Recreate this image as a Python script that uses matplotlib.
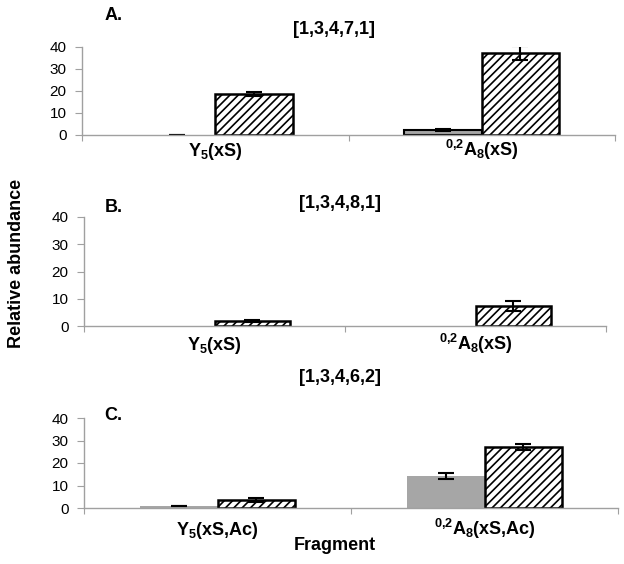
import numpy as np
import matplotlib
matplotlib.use("Agg")
import matplotlib.pyplot as plt
import matplotlib.transforms as mtransforms

plt.rcParams['font.family'] = ['Liberation Sans', 'DejaVu Sans']
plt.rcParams['mathtext.fontset'] = 'custom'
plt.rcParams['mathtext.rm'] = 'Liberation Sans'
plt.rcParams['mathtext.bf'] = 'Liberation Sans:bold'
plt.rcParams['hatch.linewidth'] = 1.2

# data
panels = ['A.', 'B.', 'C.']
titles = ['[1,3,4,7,1]', '[1,3,4,8,1]', '[1,3,4,6,2]']
labels_A = [r'Y$_\mathbf{5}$(xS)', r'$^\mathbf{0{,}2}$A$_\mathbf{8}$(xS)']
labels_B = [r'Y$_\mathbf{5}$(xS)', r'$^\mathbf{0{,}2}$A$_\mathbf{8}$(xS)']
labels_C = [r'Y$_\mathbf{5}$(xS,Ac)', r'$^\mathbf{0{,}2}$A$_\mathbf{8}$(xS,Ac)']

gray_A = [0.0, 2.3]
gray_A_err = [0.05, 0.6]
hatch_A = [18.7, 37.3]
hatch_A_err = [0.8, 3.2]

gray_B = [0.0, 0.0]
gray_B_err = [0.0, 0.0]
hatch_B = [1.8, 7.3]
hatch_B_err = [0.3, 1.8]

gray_C = [0.8, 14.2]
gray_C_err = [0.1, 1.4]
hatch_C = [3.6, 27.1]
hatch_C_err = [0.8, 1.3]

W, H = 624, 564
fig = plt.figure(figsize=(W / 100, H / 100), dpi=100)

def px_axes(x0, x1, y0, y1):
    # axes from pixel box (top-left origin)
    return fig.add_axes([x0 / W, 1 - y1 / H, (x1 - x0) / W, (y1 - y0) / H])

axes = [px_axes(82, 615, 47, 135), px_axes(84, 606, 217, 326), px_axes(84, 618, 418, 508)]
data = [(labels_A, gray_A, gray_A_err, hatch_A, hatch_A_err, True, 21),
        (labels_B, gray_B, gray_B_err, hatch_B, hatch_B_err, False, 24),
        (labels_C, gray_C, gray_C_err, hatch_C, hatch_C_err, False, 27)]

w = 0.29
spine_col = '#a0a0a0'
for ax, (labs, g, ge, h, he, gedge, base) in zip(axes, data):
    x = np.arange(len(labs))
    lw = [1.5 if (gedge and v > 0) else 0 for v in g]
    ax.bar(x - w / 2, g, w, color='#a6a6a6', edgecolor='black', linewidth=lw)
    ax.bar(x + w / 2, h, w, color='white', edgecolor='black', hatch='////', linewidth=1.8)
    for xi, v, e in zip(x - w / 2, g, ge):
        if e > 0:
            ax.errorbar(xi, v, yerr=e, color='black', capsize=6, capthick=1.5, elinewidth=1.5)
    for xi, v, e in zip(x + w / 2, h, he):
        if e > 0:
            ax.errorbar(xi, v, yerr=e, color='black', capsize=6, capthick=1.5, elinewidth=1.5)
    ax.set_xlim(-0.5, 1.5)
    ax.set_ylim(0, 40)
    ax.set_yticks([0, 10, 20, 30, 40])
    ax.set_xticks([-0.5, 0.5, 1.5])
    ax.set_xticklabels([])
    ax.tick_params(axis='y', length=5, color=spine_col, labelsize=11, pad=6)
    ax.tick_params(axis='x', length=4, color=spine_col)
    for s in ['top', 'right']:
        ax.spines[s].set_visible(False)
    for s in ['left', 'bottom']:
        ax.spines[s].set_color(spine_col)
        ax.spines[s].set_linewidth(1.0)
    trans = mtransforms.offset_copy(ax.get_xaxis_transform(), fig=fig, x=0, y=-base * 0.72, units='points')
    for xi, lab in zip(x, labs):
        ax.text(xi, 0, lab, transform=trans, ha='center', va='baseline',
                fontsize=13, fontweight='bold')

def ftext(px, py, s, **kw):
    fig.text(px / W, 1 - py / H, s, ha='center', va='center', fontsize=13, fontweight='bold', **kw)

ftext(114, 15, panels[0])
ftext(114, 208, panels[1])
ftext(113, 415, panels[2])
ftext(334, 30, titles[0])
ftext(340, 203, titles[1])
ftext(340, 378, titles[2])
ftext(17, 263, 'Relative abundance', rotation=90)
ftext(335, 546, 'Fragment')

fig.savefig('out.png', dpi=100)
